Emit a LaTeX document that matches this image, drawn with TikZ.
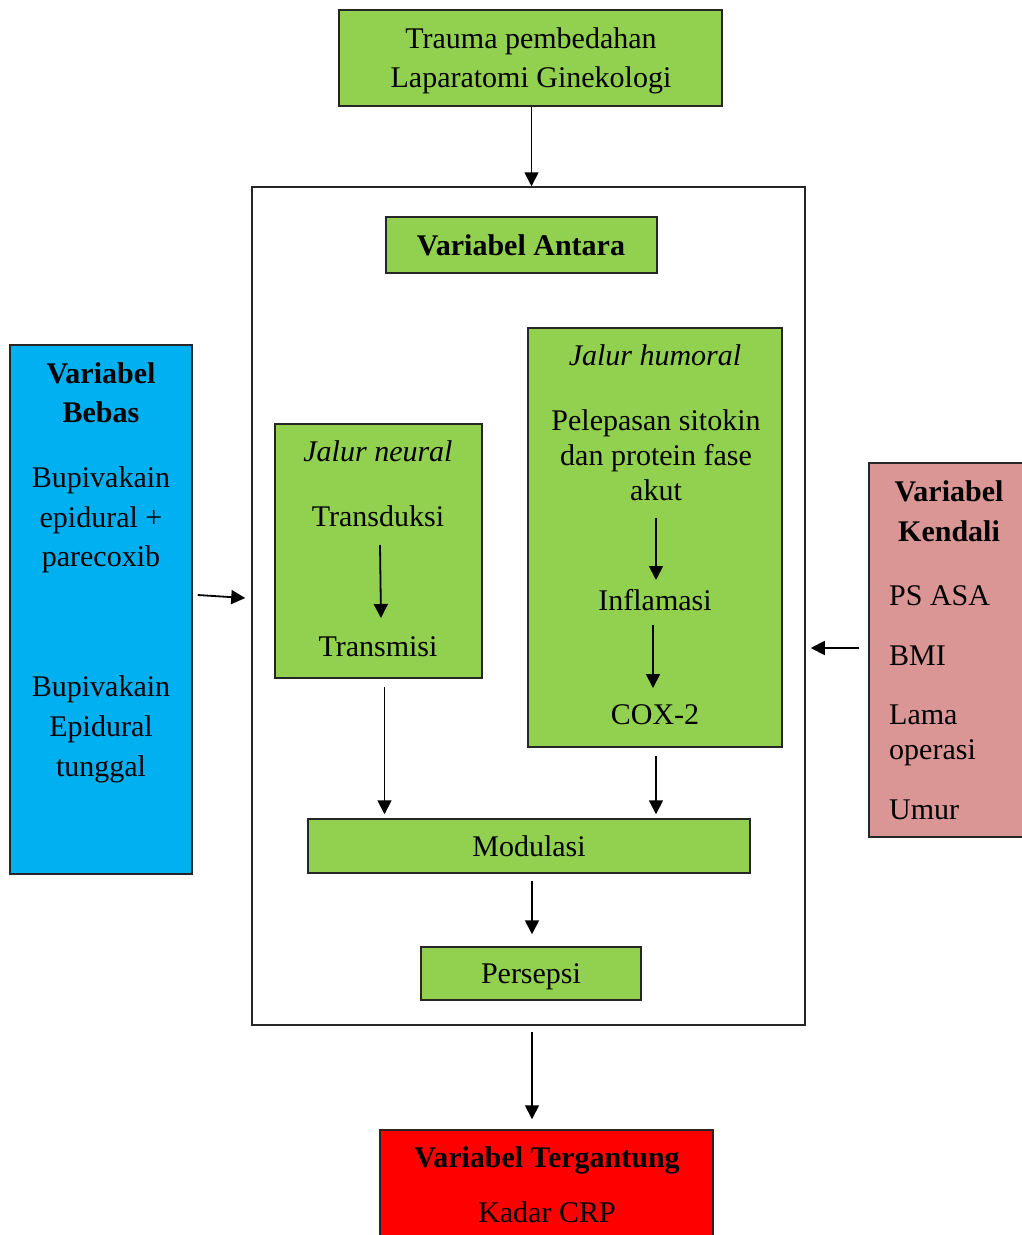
\documentclass[tikz,border=0pt]{standalone}
\usepackage{fontspec}
\setmainfont{Liberation Serif}
\usetikzlibrary{arrows.meta,calc}
\definecolor{cgreen}{HTML}{92D050}
\definecolor{cblue}{HTML}{00B0F0}
\definecolor{cpink}{HTML}{DA9694}
\definecolor{cred}{HTML}{FF0000}
\begin{document}
\begin{tikzpicture}[x=1pt,y=-1pt,
  box/.style={draw=black!85,line width=1.5pt,rectangle,inner sep=0pt},
  txt/.style={anchor=base,inner sep=0pt,font=\fontsize{30}{36}\selectfont},
  ltxt/.style={anchor=base west,inner sep=0pt,font=\fontsize{30}{36}\selectfont},
  arr/.style={line width=1.8pt,-{Triangle[length=14pt,width=14pt]}}]
\useasboundingbox (0,0) rectangle (1022,1235);
\clip (0,0) rectangle (1022,1235);
% boxes
\node[box,fill=cgreen,minimum width=383pt,minimum height=96pt] (top) at (530.5,58) {};
\node[box,fill=white,minimum width=553pt,minimum height=838pt] (big) at (528.5,606) {};
\node[box,fill=cgreen,minimum width=271pt,minimum height=56pt] (antara) at (521.5,245) {};
\node[box,fill=cgreen,minimum width=254pt,minimum height=419pt] (humoral) at (655,537.5) {};
\node[box,fill=cgreen,minimum width=207pt,minimum height=254pt] (neural) at (378.5,551) {};
\node[box,fill=cgreen,minimum width=442pt,minimum height=54pt] (mod) at (529,846) {};
\node[box,fill=cgreen,minimum width=220pt,minimum height=53pt] (pers) at (531,973.5) {};
\node[box,fill=cred,minimum width=333pt,minimum height=130pt] (red) at (546.5,1195) {};
\node[box,fill=cblue,minimum width=182pt,minimum height=529pt] (blue) at (101,609.5) {};
\node[box,fill=cpink,minimum width=171pt,minimum height=374pt] (pink) at (954.5,650) {};
% texts
\node[txt] (t1) at (531,48) {Trauma pembedahan};
\node[txt] (t2) at (531,87) {Laparatomi Ginekologi};
\node[txt] (tant) at (521,255) {\bfseries Variabel Antara};
\node[txt] (thum) at (655,365) {\itshape Jalur humoral};
\node[txt] (pel1) at (656,430) {Pelepasan sitokin};
\node[txt] (pel2) at (656,465) {dan protein fase};
\node[txt] (pel3) at (656,500) {akut};
\node[txt] (infl) at (655,610) {Inflamasi};
\node[txt] (cox) at (655,724) {COX-2};
\node[txt] (tneu) at (378,461) {\itshape Jalur neural};
\node[txt] (tdk) at (378,526) {Transduksi};
\node[txt] (tms) at (378,656) {Transmisi};
\node[txt] (tmod) at (529,856) {Modulasi};
\node[txt] (tpers) at (531,983) {Persepsi};
\node[txt] (tterg) at (547,1167) {\bfseries Variabel Tergantung};
\node[txt] (tcrp) at (547,1222) {Kadar CRP};
\node[txt] (b1) at (101,383) {\bfseries Variabel};
\node[txt] (b2) at (101,422) {\bfseries Bebas};
\node[txt] (b3) at (101,487) {Bupivakain};
\node[txt] (b4) at (101,527) {epidural +};
\node[txt] (b5) at (101,566) {parecoxib};
\node[txt] (b6) at (101,696) {Bupivakain};
\node[txt] (b7) at (101,736) {Epidural};
\node[txt] (b8) at (101,776) {tunggal};
\node[txt] (k1) at (949,501) {\bfseries Variabel};
\node[txt] (k2) at (949,541) {\bfseries Kendali};
\node[ltxt] (k3) at (889,605) {PS ASA};
\node[ltxt] (k4) at (889,665) {BMI};
\node[ltxt] (k5) at (889,724) {Lama};
\node[ltxt] (k6) at (889,759) {operasi};
\node[ltxt] (k7) at (889,819) {Umur};
% arrows
\draw[arr] ($(top.south)+(1,0)$) -- ($(top.south |- big.north)+(1,0)$);
\draw[arr] ($(tdk.base)+(2,19)$) -- ($(tms.base)+(3,-38)$);
\draw[arr] ($(pel3.base)+(0,18)$) -- ($(infl.base)+(1,-30)$);
\draw[arr] ($(infl.base)+(-2,15)$) -- ($(cox.base)+(-2,-36)$);
\draw[arr] ($(neural.south)+(6,8)$) -- ($(neural.south |- mod.north)+(6,-4)$);
\draw[arr] ($(humoral.south)+(1,8)$) -- ($(humoral.south |- mod.north)+(1,-4)$);
\draw[arr] ($(mod.south)+(3,7)$) -- ($(mod.south |- pers.north)+(3,-12)$);
\draw[arr] ($(pers.south |- big.south)+(1,6)$) -- ($(pers.south |- red.north)+(1,-10)$);
\draw[arr] ($(blue.east)+(5,-14.5)$) -- ($(big.west)+(-6,-8)$);
\draw[arr] ($(pink.west)+(-9,-2)$) -- ($(pink.west -| big.east)+(5,-2)$);
\end{tikzpicture}
\end{document}
